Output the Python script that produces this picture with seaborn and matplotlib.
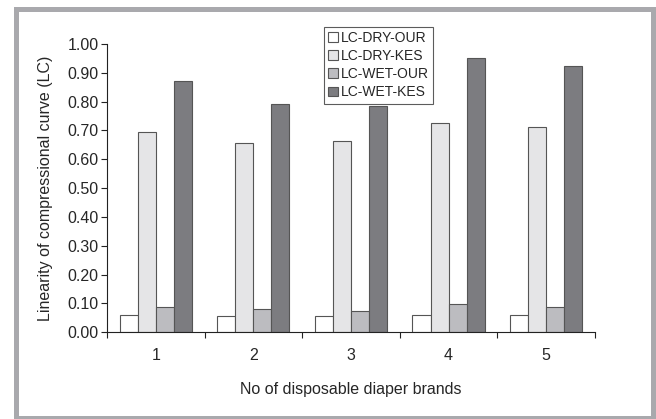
import pandas as pd
import seaborn as sns
import matplotlib.pyplot as plt
from matplotlib.patches import Rectangle
from matplotlib.ticker import FixedLocator, FormatStrFormatter

brands = ["1", "2", "3", "4", "5"]
series = ["LC-DRY-OUR", "LC-DRY-KES", "LC-WET-OUR", "LC-WET-KES"]
dry_our = [0.059, 0.057, 0.057, 0.060, 0.060]
dry_kes = [0.695, 0.658, 0.662, 0.727, 0.711]
wet_our = [0.087, 0.080, 0.074, 0.097, 0.088]
wet_kes = [0.873, 0.793, 0.784, 0.950, 0.922]

rows = []
for name, vals in zip(series, [dry_our, dry_kes, wet_our, wet_kes]):
    for b, v in zip(brands, vals):
        rows.append({"brand": b, "series": name, "lc": v})
df = pd.DataFrame(rows)

sns.set_style("white")
plt.rcParams['font.family'] = ['Liberation Sans', 'DejaVu Sans']

fig = plt.figure(figsize=(6.56, 4.19), dpi=100)
ax = fig.add_axes([0.163, 0.207, 0.744, 0.688])

palette = ["#ffffff", "#e5e5e7", "#bcbcc0", "#7c7c80"]
g = sns.barplot(data=df, x="brand", y="lc", hue="series", palette=palette,
                order=brands, hue_order=series, width=0.74, saturation=1,
                edgecolor="#555555", linewidth=0.8, ax=ax)

ax.set_ylim(0, 1.0)
ax.set_xlim(-0.5, 4.5)
ax.set_yticks([i / 10 for i in range(11)])
ax.yaxis.set_major_formatter(FormatStrFormatter("%.2f"))
ax.tick_params(axis="y", direction="out", length=4, width=0.8, color="#222222",
               labelsize=11.5, left=True, pad=2)
ax.tick_params(axis="x", which="major", length=0, labelsize=11.5, pad=11)
ax.xaxis.set_minor_locator(FixedLocator([i + 0.5 for i in range(-1, 5)]))
ax.tick_params(axis="x", which="minor", direction="out", length=4, width=0.8,
               color="#222222", bottom=True)

for side in ["top", "right"]:
    ax.spines[side].set_visible(False)
for side in ["left", "bottom"]:
    ax.spines[side].set_color("#222222")
    ax.spines[side].set_linewidth(0.8)

ax.set_ylabel("Linearity of compressional curve (LC)", fontsize=11.5, labelpad=10)
ax.set_xlabel("No of disposable diaper brands", fontsize=11.5, labelpad=14)

leg = ax.legend(loc="upper left", bbox_to_anchor=(0.445, 1.06), fontsize=10,
                frameon=True, fancybox=False, edgecolor="#333333",
                handlelength=0.7, handleheight=0.7, handletextpad=0.2,
                labelspacing=0.3, borderpad=0.3, borderaxespad=0)
leg.get_frame().set_linewidth(0.8)

fig.patches.append(Rectangle((15.5 / 656, 1 - 417.5 / 419), (653 - 15.5) / 656,
                             (417.5 - 9.5) / 419, transform=fig.transFigure,
                             fill=False, edgecolor="#a9a9ad", linewidth=3.6))

fig.savefig("out.png", dpi=100)
